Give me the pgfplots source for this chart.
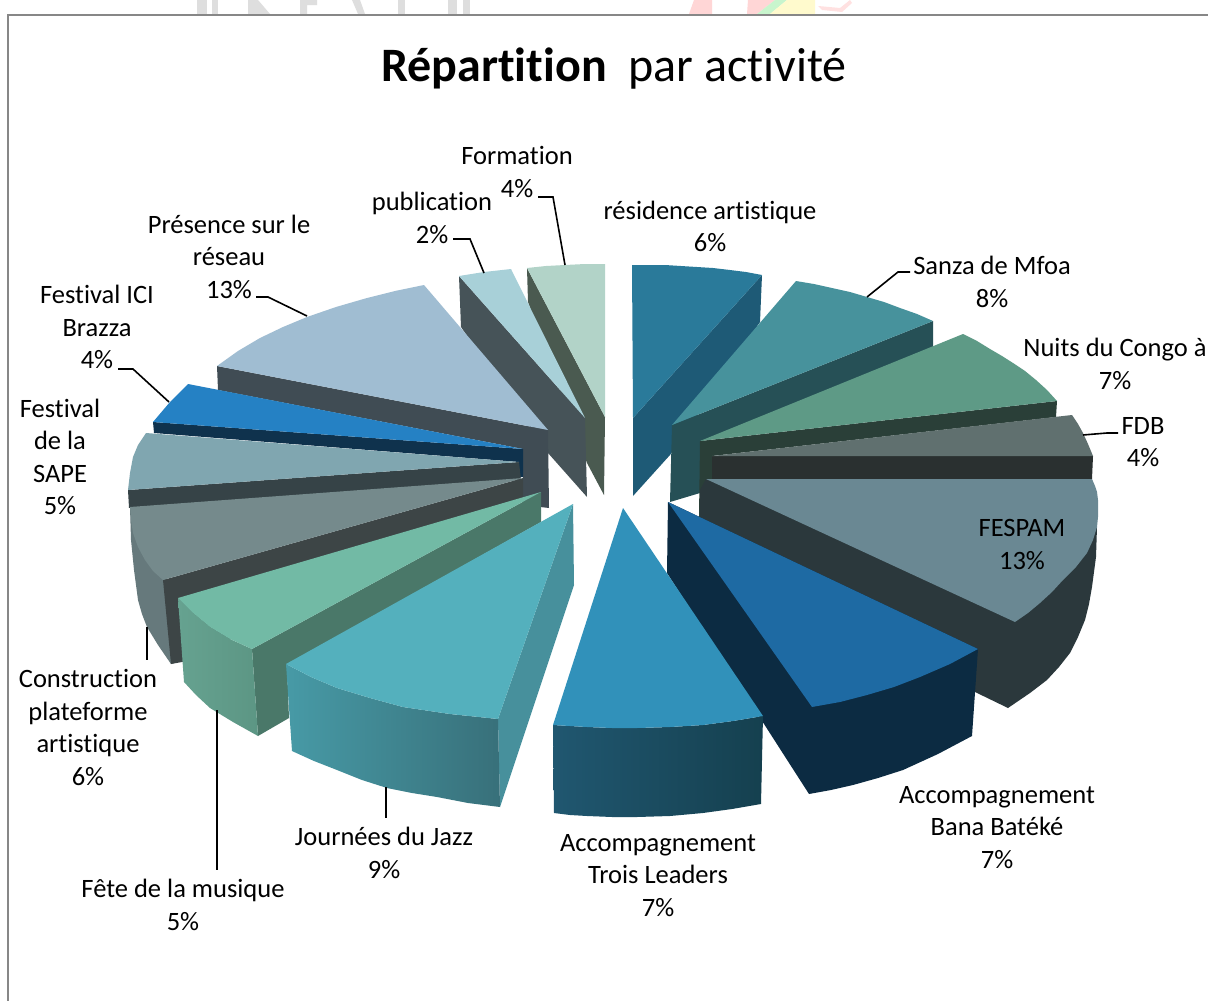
\documentclass[border=0pt]{standalone}
\usepackage{fontspec}
\setmainfont{Carlito}[Ligatures=NoCommon]
\usepackage{pgfplots}
\pgfplotsset{compat=1.18}
\definecolor{c1top}{HTML}{2A7A9A}\definecolor{c1side}{HTML}{1E5A76}
\definecolor{c2top}{HTML}{47929C}\definecolor{c2side}{HTML}{265056}
\definecolor{c3top}{HTML}{5E9A86}\definecolor{c3side}{HTML}{2A3F38}
\definecolor{c4top}{HTML}{60706F}\definecolor{c4side}{HTML}{2A3030}
\definecolor{c5top}{HTML}{6A8893}\definecolor{c5side}{HTML}{2B383C}
\definecolor{c6top}{HTML}{1E6AA3}\definecolor{c6side}{HTML}{0C2B42}
\definecolor{c7top}{HTML}{B2D3C8}\definecolor{c7side}{HTML}{4A5A50}
\definecolor{c8top}{HTML}{A8D0D8}\definecolor{c8side}{HTML}{465358}
\definecolor{c9top}{HTML}{A0BDD2}\definecolor{c9side}{HTML}{404C54}
\definecolor{c10top}{HTML}{2581C4}\definecolor{c10side}{HTML}{0F324D}
\definecolor{c11top}{HTML}{80A6B0}\definecolor{c11side}{HTML}{364347}
\definecolor{c12top}{HTML}{758A8C}\definecolor{c12side}{HTML}{3D4546}\definecolor{c12front}{HTML}{66797C}
\definecolor{c13top}{HTML}{72BAA5}\definecolor{c13side}{HTML}{4A7869}\definecolor{c13a}{HTML}{66A290}\definecolor{c13b}{HTML}{5C9684}
\definecolor{c14top}{HTML}{54B0BD}\definecolor{c14right}{HTML}{47909C}\definecolor{c14a}{HTML}{479AA6}\definecolor{c14b}{HTML}{38707A}
\definecolor{c15top}{HTML}{3191BA}\definecolor{c15a}{HTML}{205770}\definecolor{c15b}{HTML}{15404F}
\newcommand{\poly}[2]{\addplot[fill=#1,draw=none,forget plot] coordinates {#2} -- cycle;}
\newcommand{\grad}[3]{\addplot[left color=#1,right color=#2,draw=none,forget plot] coordinates {#3} -- cycle;}
\newcommand{\lead}[1]{\addplot[black,line width=1.6pt,forget plot] coordinates {#1};}
\newcommand{\lab}[3]{\node[align=center,font=\fontsize{26.5}{32.5}\selectfont,inner sep=0pt] at (axis cs:#1,#2) {#3};}
\begin{document}
\begin{tikzpicture}
\begin{axis}[
  width=1208pt,height=1001pt,scale only axis,
  xmin=0,xmax=1208,ymin=0,ymax=1001,y dir=reverse,
  axis lines=none,clip=true]
% background
\addplot[draw=none,fill=white,forget plot] coordinates {(0,0)(1208,0)(1208,1001)(0,1001)} -- cycle;
% watermark remains above frame
\poly{black!13}{(197,0)(207,0)(207,14)(197,14)}
\poly{black!13}{(212,0)(218,0)(218,14)(212,14)}
\poly{black!13}{(248,0)(258,0)(270,14)(248,14)}
\poly{black!13}{(300,0)(317,0)(317,5)(307,5)(307,14)(300,14)}
\poly{black!13}{(352,0)(360,0)(365,14)(358,14)}
\poly{black!13}{(398,0)(405,0)(405,14)(398,14)}
\poly{black!13}{(448,0)(457,0)(457,14)(448,14)}
\poly{black!13}{(463,0)(470,0)(470,14)(463,14)}
\addplot[fill={rgb,255:red,255;green,214;blue,214},draw=none,forget plot] coordinates {(689,14)(694,0)(712,0)(712,14)} -- cycle;
\addplot[fill={rgb,255:red,255;green,214;blue,214},draw=none,forget plot] coordinates {(747,14)(748,0)(775,0)(757,14)} -- cycle;
\addplot[fill={rgb,255:red,200;green,245;blue,205},draw=none,forget plot] coordinates {(757,14)(775,0)(787,0)(770,14)} -- cycle;
\addplot[fill={rgb,255:red,255;green,250;blue,205},draw=none,forget plot] coordinates {(770,14)(787,0)(815,0)(815,14)} -- cycle;
\addplot[fill={rgb,255:red,255;green,225;blue,225},draw=none,forget plot] coordinates {(818,6)(840,8)(850,0)(852,3)(842,12)(822,10)} -- cycle;
% frame
\addplot[color=black!47,line width=2pt,forget plot] coordinates {(8,1001)(8,15)(1208,15)};
% residence artistique
\poly{c1side}{(762,275)(760,322)(670,455)(633,496)(633,418)}
\poly{c1top}{(632,265)(650,265)(665,265)(681,266)(697,267)(713,268)(730,270)(746,272)(762,275)(633,418)}
% Sanza
\poly{c2side}{(933,321)(933,347)(700,442)(700,493)(670,502)(672,425)}
\poly{c2top}{(672,425)(796,281)(814,284)(832,288)(850,292)(867,297)(884,302)(900,308)(917,314)(933,321)}
% Nuits
\poly{c3side}{(1057,401)(1056,417)(712,456)(712,517)(699,517)(700,441)}
\poly{c3top}{(700,441)(963,334)(977,341)(990,349)(1002,356)(1013,363)(1025,371)(1036,380)(1047,390)(1057,401)}
% FDB
\poly{c4side}{(712,456)(1093,456)(1092,479)(712,479)}
\poly{c4top}{(712,456)(1072,415)(1078,424)(1083,433)(1088,444)(1093,456)}
% FESPAM
\poly{c5side}{(706,479)(1097,527)(1096,557)(1092,587)(1089,604)(1085,620)(1078,637)(1070,653)(1059,667)(1047,680)(1030,693)(1008,708)(975,692)(700,530)(700,490)}
\poly{c5top}{(706,479)(1092,479)(1095,486)(1097,492)(1098,500)(1098,507)(1098,517)(1097,527)(1093,540)(1087,553)(1076,567)(1063,580)(1052,592)(1040,603)(1028,613)(1015,622)}
% Bana
\poly{c6side}{(668,502)(978,649)(972,736)(938,754)(903,770)(878,778)(853,785)(831,790)(809,794)(667,573)}
\poly{c6top}{(668,502)(978,649)(950,664)(920,677)(894,687)(867,695)(840,702)(812,707)}
% Formation
\poly{c7side}{(527,268)(605,417)(604,495)(587,463)(528,302)}
\poly{c7top}{(527,268)(546,266)(565,265)(585,264)(605,264)(605,417)}
% publication
\poly{c8side}{(459,276)(585,418)(587,497)(548,453)(461,327)}
\poly{c8top}{(459,276)(484,272)(511,269)(585,418)}
% Presence
\poly{c9side}{(217,366)(548,430)(549,508)(523,505)(523,449)(218,390)}
\poly{c9top}{(548,430)(424,285)(395,291)(367,298)(336,307)(307,317)(283,327)(260,338)(238,351)(217,366)}
% ICI
\poly{c10side}{(153,422)(154,433)(519,462)(519,477)(523,477)(523,449)}
\poly{c10top}{(523,449)(188,384)(170,402)(153,422)}
% SAPE
\poly{c11side}{(128,490)(129,508)(521,480)(519,462)}
\poly{c11top}{(519,462)(146,433)(138,445)(133,457)(130,473)(128,490)}
% Construction
\poly{c12front}{(130,507)(131,540)(134,570)(138,600)(142,614)(147,627)(158,645)(171,664)(185,660)(163,560)}
\poly{c12side}{(523,478)(523,500)(182,662)(171,664)(163,580)}
\poly{c12top}{(523,478)(130,507)(131,520)(133,533)(138,547)(145,560)(153,571)(163,580)}
% Fete
\poly{c13side}{(541,492)(541,522)(287,665)(289,718)(258,736)(252,649)}
\grad{c13a}{c13b}{(178,598)(193,613)(210,627)(230,639)(252,649)(258,736)(233,722)(210,708)(196,695)(184,682)}
\poly{c13top}{(541,492)(178,598)(193,613)(210,627)(230,639)(252,649)}
% Journees
\poly{c14right}{(573,504)(574,585)(500,807)(498,719)}
\grad{c14a}{c14b}{(286,664)(311,677)(337,688)(370,698)(403,707)(450,714)(498,719)(500,807)(468,803)(437,797)(412,793)(387,788)(362,780)(337,770)(314,761)(292,751)}
\poly{c14top}{(573,504)(286,664)(311,677)(337,688)(370,698)(403,707)(450,714)(498,719)}
% Trois Leaders
\grad{c15a}{c15b}{(553,725)(570,726)(587,727)(612,728)(637,728)(670,727)(703,725)(733,721)(763,716)(761,804)(732,809)(703,813)(670,816)(637,817)(612,817)(587,816)(570,815)(554,813)}
\poly{c15top}{(623,508)(763,716)(733,721)(703,725)(670,727)(637,728)(612,728)(587,727)(570,726)(553,725)}
% leader lines
\lead{(867,297)(898,272)(910,272)}
\lead{(1083,435)(1107,433)(1118,433)}
\lead{(307,316)(268,297)(256,297)}
\lead{(484,273)(470,239)(453,239)}
\lead{(565,265)(553,197)(538,197)}
\lead{(169,402)(133,369)(118,369)}
\lead{(147,627)(147,660)}
\lead{(217,710)(217,870)}
\lead{(386,787)(386,818)}
% text
\node[font=\fontsize{48}{54}\selectfont,inner sep=0pt] at (axis cs:614,69) {\textbf{Répartition}\ \ par activité};
\lab{517}{172}{Formation\\4\%}
\lab{432}{218}{publication\\2\%}
\lab{710}{226.5}{résidence artistique\\6\%}
\lab{992}{282}{Sanza de Mfoa\\8\%}
\lab{1115}{364}{Nuits du Congo à\\7\%}
\lab{1143}{442}{FDB\\4\%}
\lab{1022}{544.5}{FESPAM\\13\%}
\lab{997}{827.5}{Accompagnement\\Bana Batéké\\7\%}
\lab{658}{875.5}{Accompagnement\\Trois Leaders\\7\%}
\lab{384}{853}{Journées du Jazz\\9\%}
\lab{183}{905}{Fête de la musique\\5\%}
\lab{88}{727.5}{Construction\\plateforme\\artistique\\6\%}
\lab{60}{457}{Festival\\de la\\SAPE\\5\%}
\lab{97}{327}{Festival ICI\\Brazza\\4\%}
\lab{229}{256.5}{Présence sur le\\réseau\\13\%}
\end{axis}
\end{tikzpicture}
\end{document}
